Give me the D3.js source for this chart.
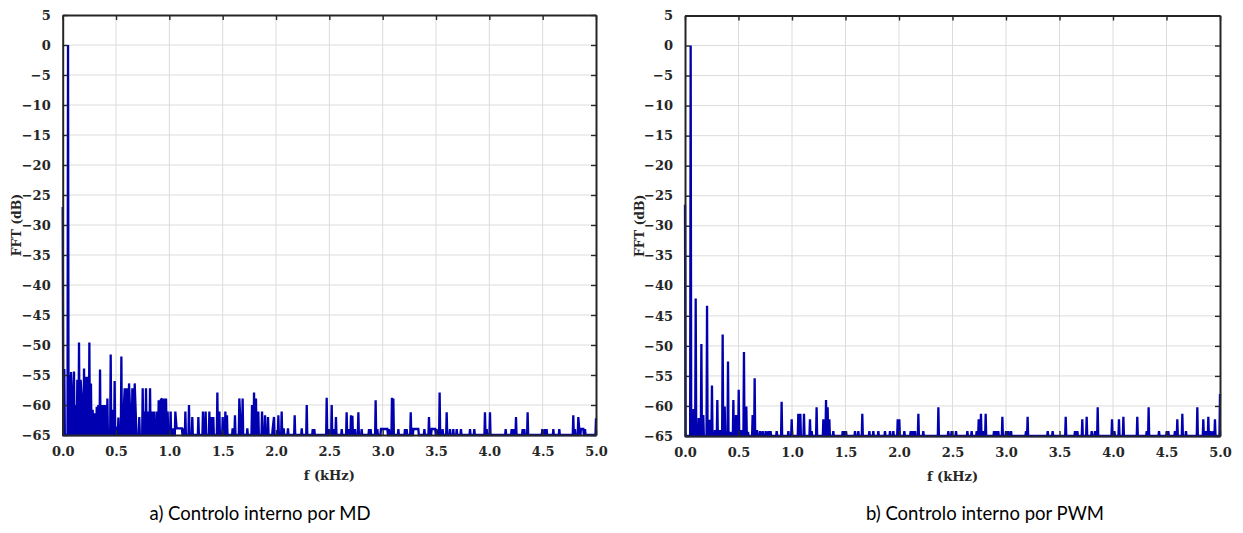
<!DOCTYPE html>
<html><head><meta charset="utf-8">
<script src="https://cdn.jsdelivr.net/npm/d3@7/dist/d3.min.js"></script>
<style>body{margin:0;background:#fff}svg{display:block}</style>
</head><body>
<svg id="chart" width="1243" height="533"></svg>
<script>
// ---------- data ----------
const xTicks = [0, 0.5, 1, 1.5, 2, 2.5, 3, 3.5, 4, 4.5, 5];
const yTicks = [5, 0, -5, -10, -15, -20, -25, -30, -35, -40, -45, -50, -55, -60, -65];
const floorDb = -65;
const xLabel = "f (kHz)";
const yLabel = "FFT (dB)";
const captions = ["a) Controlo interno por MD", "b) Controlo interno por PWM"];

// panel a) internal control by MD : frequency (kHz) and magnitude (dB)
const freqA = [
 0.000,0.015,0.050,0.065,0.078,0.090,0.106,0.122,0.137,0.153,
 0.168,0.178,0.200,0.218,0.231,0.250,0.265,0.281,0.303,0.319,
 0.334,0.350,0.365,0.381,0.397,0.419,0.450,0.469,0.487,0.506,
 0.522,0.550,0.569,0.581,0.600,0.622,0.634,0.653,0.675,0.687,
 0.718,0.750,0.765,0.781,0.797,0.819,0.834,0.856,0.881,0.900,
 0.919,0.931,0.947,0.969,0.984,1.012,1.037,1.056,1.068,1.078,
 1.088,1.098,1.108,1.118,1.131,1.150,1.184,1.215,1.272,1.315,
 1.340,1.375,1.393,1.412,1.450,1.469,1.500,1.525,1.540,1.593,
 1.615,1.656,1.668,1.687,1.731,1.775,1.794,1.812,1.834,1.869,
 1.897,1.925,1.969,1.981,2.022,2.053,2.072,2.112,2.175,2.241,
 2.288,2.344,2.359,2.475,2.494,2.522,2.537,2.562,2.616,2.662,
 2.684,2.703,2.716,2.741,2.772,2.803,2.872,2.887,2.934,2.950,
 2.984,2.994,3.006,3.016,3.025,3.035,3.044,3.059,3.087,3.100,
 3.147,3.209,3.225,3.263,3.288,3.300,3.312,3.323,3.334,3.391,
 3.434,3.459,3.470,3.481,3.493,3.506,3.534,3.562,3.600,3.631,
 3.662,3.694,3.734,3.819,3.859,3.959,3.975,4.006,4.153,4.209,
 4.225,4.250,4.312,4.328,4.359,4.497,4.522,4.537,4.600,4.656,
 4.787,4.803,4.834,4.843,4.859,4.870,4.881,4.897,5.000
];
const dbA = [
 -27,-54,0,-55,-54.5,-59.7,-54.4,-60,-55.8,-49.6,
 -55.8,-58.6,-53.9,-55.3,-55.3,-49.6,-56.4,-60.8,-61.4,-60.3,
 -60,-54.1,-60,-60,-60,-58.9,-51.6,-60.8,-56,-63.6,
 -62.1,-51.9,-62,-57.2,-57.2,-56.4,-62,-57.2,-56.4,-62.5,
 -62,-57.2,-61.1,-57.2,-61.1,-57.2,-61.1,-61.1,-61.1,-59.2,
 -59.2,-58.9,-58.9,-58.9,-61.1,-61.1,-63.9,-61.1,-63.9,-63.9,
 -63.9,-63.9,-63.9,-63.9,-63.9,-61.1,-60,-62,-62,-61.1,
 -61.1,-61.1,-62,-62,-57.9,-61.1,-62,-61.1,-61.7,-63.9,
 -61.7,-58.9,-63.6,-58.9,-63.9,-60,-57.9,-58.9,-61.1,-61.1,
 -61.7,-62,-63.9,-62,-61.7,-61.1,-63.9,-63.9,-61.7,-63.9,
 -60,-64,-64,-58.8,-64,-60,-64,-62,-64,-61.2,
 -64,-61.7,-61.8,-64,-61.2,-64,-64,-64,-59.2,-64,
 -64,-64,-64,-64,-64,-64,-64,-64,-58.8,-58.9,
 -64,-64,-64,-61.2,-64,-64,-64,-64,-64,-64,
 -62,-64,-64,-64,-64,-64,-57.9,-64,-61.2,-64,
 -64,-64,-64,-64,-64,-61.2,-64,-61.2,-64,-64,
 -64,-62,-64,-64,-61.2,-64,-64,-64,-64,-64,
 -61.7,-64,-62,-64,-64,-64,-64,-64,-62.2
];

// panel b) internal control by PWM
const freqB = [
 0.000,0.053,0.080,0.100,0.128,0.153,0.171,0.206,0.230,0.252,
 0.280,0.302,0.327,0.352,0.371,0.402,0.424,0.452,0.477,0.502,
 0.527,0.551,0.573,0.589,0.632,0.651,0.673,0.701,0.726,0.754,
 0.779,0.800,0.857,0.903,0.966,0.997,1.059,1.078,1.112,1.168,
 1.184,1.230,1.293,1.318,1.333,1.349,1.386,1.474,1.489,1.505,
 1.589,1.620,1.657,1.723,1.760,1.807,1.869,1.916,1.947,1.988,
 2.003,2.050,2.109,2.128,2.150,2.181,2.227,2.368,2.461,2.492,
 2.533,2.639,2.679,2.726,2.745,2.766,2.788,2.810,2.888,2.907,
 2.928,2.966,3.000,3.022,3.047,3.187,3.202,3.390,3.436,3.558,
 3.645,3.667,3.713,3.754,3.801,3.832,3.857,3.991,4.013,4.056,
 4.097,4.227,4.315,4.333,4.430,4.502,4.517,4.579,4.601,4.648,
 4.682,4.788,4.844,4.866,4.891,4.913,4.938,4.953,5.000
];
const dbB = [
 -26.5,0,-60.5,-42.1,-62,-49.7,-61.5,-43.3,-62.3,-56.6,
 -64,-59,-64,-48.1,-60.1,-52.6,-64.3,-59,-61.5,-57.3,
 -64,-51,-60.1,-64.3,-61.5,-55.4,-64,-64.2,-64.2,-64.2,
 -64.2,-64.2,-64.2,-59.3,-64.2,-62.2,-61.3,-61.3,-61.3,-62.2,
 -64.2,-60.2,-62.2,-59,-60.2,-62.2,-64.2,-64.2,-64.2,-64.2,
 -64.2,-64.2,-61.3,-64.2,-64.2,-64.2,-64.2,-64.2,-64.2,-62.2,
 -62.2,-64.2,-64.2,-64.2,-64.2,-61.3,-64.2,-60.2,-64.2,-64.2,
 -64.2,-64.2,-64.2,-64.2,-62.2,-61.3,-64.2,-61.3,-64.2,-64.2,
 -64.2,-61.8,-64.2,-64.2,-64.2,-64.2,-61.8,-64.2,-64.2,-61.8,
 -64.2,-64.2,-62.2,-61.8,-64.2,-64.2,-60.2,-62.2,-64.2,-62.2,
 -61.8,-61.8,-64.2,-60.2,-64.2,-64.2,-64.2,-64.2,-62.2,-61.3,
 -64.2,-60.2,-62.2,-64.2,-61.8,-64.2,-64.2,-62.2,-58
];

// ---------- drawing ----------
const svg = d3.select("#chart");
const axisColor = "#262626";
const serif = "'DejaVu Serif', serif";

function labelStyle(sel, size) {
  return sel.style("font-family", serif).style("font-weight", "bold")
    .style("font-size", size || "13px").style("fill", axisColor);
}

const panels = [
  {x0: 62.7, x1: 596, y0: 15, y1: 435, freq: freqA, db: dbA, cap: captions[0], capX: 260, ylabX: 21},
  {x0: 685, x1: 1220, y0: 15.5, y1: 436, freq: freqB, db: dbB, cap: captions[1], capX: 985, ylabX: 644}
];

// values below the axis floor are clipped; the trace returns to the floor between separated lines
function tracePoints(fs, ds) {
  const pts = [];
  for (let i = 0; i < fs.length; i++) {
    if (i > 0 && fs[i] - fs[i - 1] > 0.0125) {
      pts.push([fs[i - 1] + 0.005, floorDb]);
      pts.push([fs[i] - 0.005, floorDb]);
    }
    pts.push([fs[i], Math.max(ds[i], floorDb)]);
  }
  return pts;
}

panels.forEach(p => {
  const x = d3.scaleLinear().domain([0, 5]).range([p.x0, p.x1]);
  const y = d3.scaleLinear().domain([floorDb, 5]).range([p.y1, p.y0]);
  const g = svg.append("g");

  // grid
  g.append("g").selectAll("line").data(xTicks.slice(1, -1)).join("line")
    .attr("x1", d => x(d)).attr("x2", d => x(d)).attr("y1", p.y0).attr("y2", p.y1)
    .attr("stroke", "#dcdcdc").attr("stroke-width", 1);
  g.append("g").selectAll("line").data(yTicks.slice(1, -1)).join("line")
    .attr("y1", d => y(d)).attr("y2", d => y(d)).attr("x1", p.x0).attr("x2", p.x1)
    .attr("stroke", "#dcdcdc").attr("stroke-width", 1);

  // data trace
  const line = d3.line().x(d => x(d[0])).y(d => y(d[1]));
  g.append("path").datum(tracePoints(p.freq, p.db))
    .attr("d", line).attr("fill", "none")
    .attr("stroke", "#0000b0").attr("stroke-width", 2.3)
    .attr("stroke-linejoin", "miter").attr("stroke-miterlimit", 2);

  // axes (ticks inside, full box)
  const ax = g.append("g").attr("color", axisColor);
  const bottom = ax.append("g").attr("transform", `translate(0,${p.y1})`)
    .call(d3.axisBottom(x).tickValues(xTicks).tickSizeInner(-5).tickSizeOuter(0).tickPadding(12).tickFormat(d3.format(".1f")));
  const top = ax.append("g").attr("transform", `translate(0,${p.y0})`)
    .call(d3.axisTop(x).tickValues(xTicks).tickSizeInner(-5).tickSizeOuter(0).tickFormat(""));
  const left = ax.append("g").attr("transform", `translate(${p.x0},0)`)
    .call(d3.axisLeft(y).tickValues(yTicks).tickSizeInner(-5).tickSizeOuter(0).tickPadding(12).tickFormat(d3.format("d")));
  const right = ax.append("g").attr("transform", `translate(${p.x1},0)`)
    .call(d3.axisRight(y).tickValues(yTicks).tickSizeInner(-5).tickSizeOuter(0).tickFormat(""));
  [bottom, top, left, right].forEach(a => {
    a.select(".domain").attr("stroke-width", 2);
    a.selectAll(".tick line").attr("stroke-width", 1.4);
    labelStyle(a.selectAll("text"));
  });

  // axis labels
  labelStyle(g.append("text").attr("x", (p.x0 + p.x1) / 2).attr("y", p.y1 + 45)
    .attr("text-anchor", "middle").text(xLabel));
  labelStyle(g.append("text")
    .attr("transform", `translate(${p.ylabX},${(p.y0 + p.y1) / 2}) rotate(-90)`)
    .attr("text-anchor", "middle").text(yLabel), "12.5px");

  // caption
  g.append("text").attr("x", p.capX).attr("y", 520).attr("text-anchor", "middle")
    .style("font-family", "Lato, 'Open Sans', sans-serif").style("font-size", "18.5px")
    .style("fill", "#000").text(p.cap);
});
</script>
</body></html>
